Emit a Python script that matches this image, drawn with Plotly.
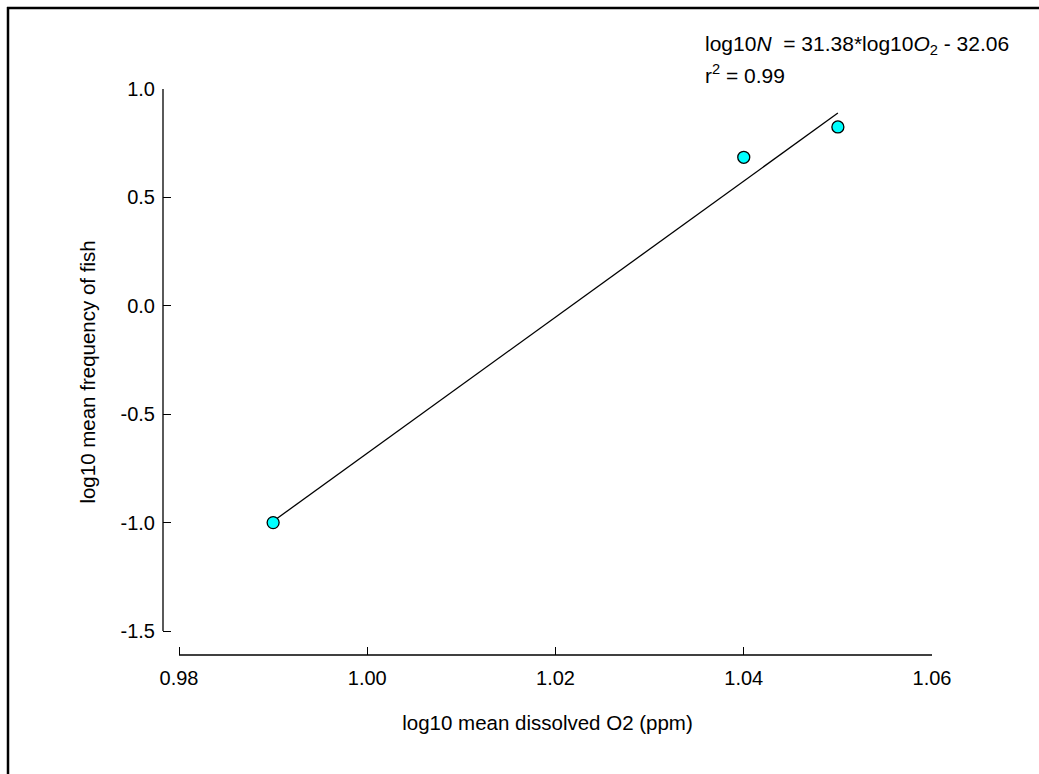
import plotly.graph_objects as go

# Data
log_o2 = [0.99, 1.04, 1.05]
log_fish = [-1.0, 0.685, 0.825]
slope = 31.38
intercept = -32.06
r_squared = 0.99

x_ticks = [0.98, 1.00, 1.02, 1.04, 1.06]
x_tick_labels = ["0.98", "1.00", "1.02", "1.04", "1.06"]
y_ticks = [-1.5, -1.0, -0.5, 0.0, 0.5, 1.0]
y_tick_labels = ["-1.5", "-1.0", "-0.5", "0.0", "0.5", "1.0"]

fit_x = [min(log_o2), max(log_o2)]
fit_y = [slope * v + intercept for v in fit_x]

FONT = "Liberation Sans, Arial, sans-serif"

W, H = 1039, 774
L, R, T, B = 163, 932, 89, 655
pw, ph = R - L, B - T

# offset axes: x axis line starts 16 px right of y axis, y axis line ends 24 px above x axis
x_lo, x_hi = x_ticks[0], x_ticks[-1]
y_lo, y_hi = y_ticks[0], y_ticks[-1]
x_span_px = pw - 16
y_span_px = ph - 24
x_range = [x_lo - 16 * (x_hi - x_lo) / x_span_px, x_hi]
y_range = [y_lo - 24 * (y_hi - y_lo) / y_span_px, y_hi]

def px_x(p):
    return (p - L) / pw

def px_y(p):
    return (B - p) / ph

fig = go.Figure()
fig.add_trace(go.Scatter(x=fit_x, y=fit_y, mode="lines",
                         line=dict(color="black", width=1.3),
                         showlegend=False, hoverinfo="skip", cliponaxis=False))
fig.add_trace(go.Scatter(x=log_o2, y=log_fish, mode="markers",
                         marker=dict(size=12, color="#00FFFF",
                                     line=dict(color="black", width=1.3)),
                         showlegend=False, cliponaxis=False))

fig.update_layout(
    width=W, height=H,
    margin=dict(l=L, r=W - R, t=T, b=H - B, pad=0),
    paper_bgcolor="white", plot_bgcolor="white",
    font=dict(family=FONT, size=20, color="black"),
    xaxis=dict(
        range=x_range, tickvals=x_ticks, ticktext=x_tick_labels,
        ticks="inside", ticklen=8, tickwidth=1.3, tickcolor="black",
        showline=False, showgrid=False, zeroline=False,
        ticklabelstandoff=9,
        tickfont=dict(family=FONT, size=20),
        title=dict(text="log10 mean dissolved O2 (ppm)", standoff=27,
                   font=dict(family=FONT, size=20.5)),
    ),
    yaxis=dict(
        range=y_range, tickvals=y_ticks, ticktext=y_tick_labels,
        ticks="inside", ticklen=8, tickwidth=1.3, tickcolor="black",
        showline=False, showgrid=False, zeroline=False,
        ticklabelstandoff=7,
        tickfont=dict(family=FONT, size=20),
        title=dict(text="log10 mean frequency of fish", standoff=19,
                   font=dict(family=FONT, size=20.5)),
    ),
    annotations=[
        dict(xref="paper", yref="paper", x=px_x(703), y=px_y(45),
             xanchor="left", yanchor="middle", showarrow=False,
             text="log10<i>N</i>  = %.2f*log10<i>O</i><sub>2</sub> - %.2f" % (slope, -intercept),
             font=dict(family=FONT, size=21)),
        dict(xref="paper", yref="paper", x=px_x(703), y=px_y(74),
             xanchor="left", yanchor="middle", showarrow=False,
             text="r<sup>2</sup> = %.2f" % r_squared,
             font=dict(family=FONT, size=21)),
    ],
    shapes=[
        # offset axis lines
        dict(type="line", xref="x", yref="paper",
             x0=x_lo, x1=x_hi, y0=0, y1=0,
             line=dict(color="black", width=1.3)),
        dict(type="line", xref="paper", yref="y",
             x0=0, x1=0, y0=y_lo, y1=y_hi,
             line=dict(color="black", width=1.3)),
        # frame lines
        dict(type="line", xref="paper", yref="paper",
             x0=px_x(7), x1=px_x(1050), y0=px_y(8), y1=px_y(8),
             line=dict(color="black", width=2.5)),
        dict(type="line", xref="paper", yref="paper",
             x0=px_x(8), x1=px_x(8), y0=px_y(7), y1=px_y(790),
             line=dict(color="black", width=2.5)),
    ],
)

fig.write_html(
    "out.html",
    config={"displayModeBar": False},
    post_script="document.body.style.margin='0';document.body.style.overflow='hidden';",
)
